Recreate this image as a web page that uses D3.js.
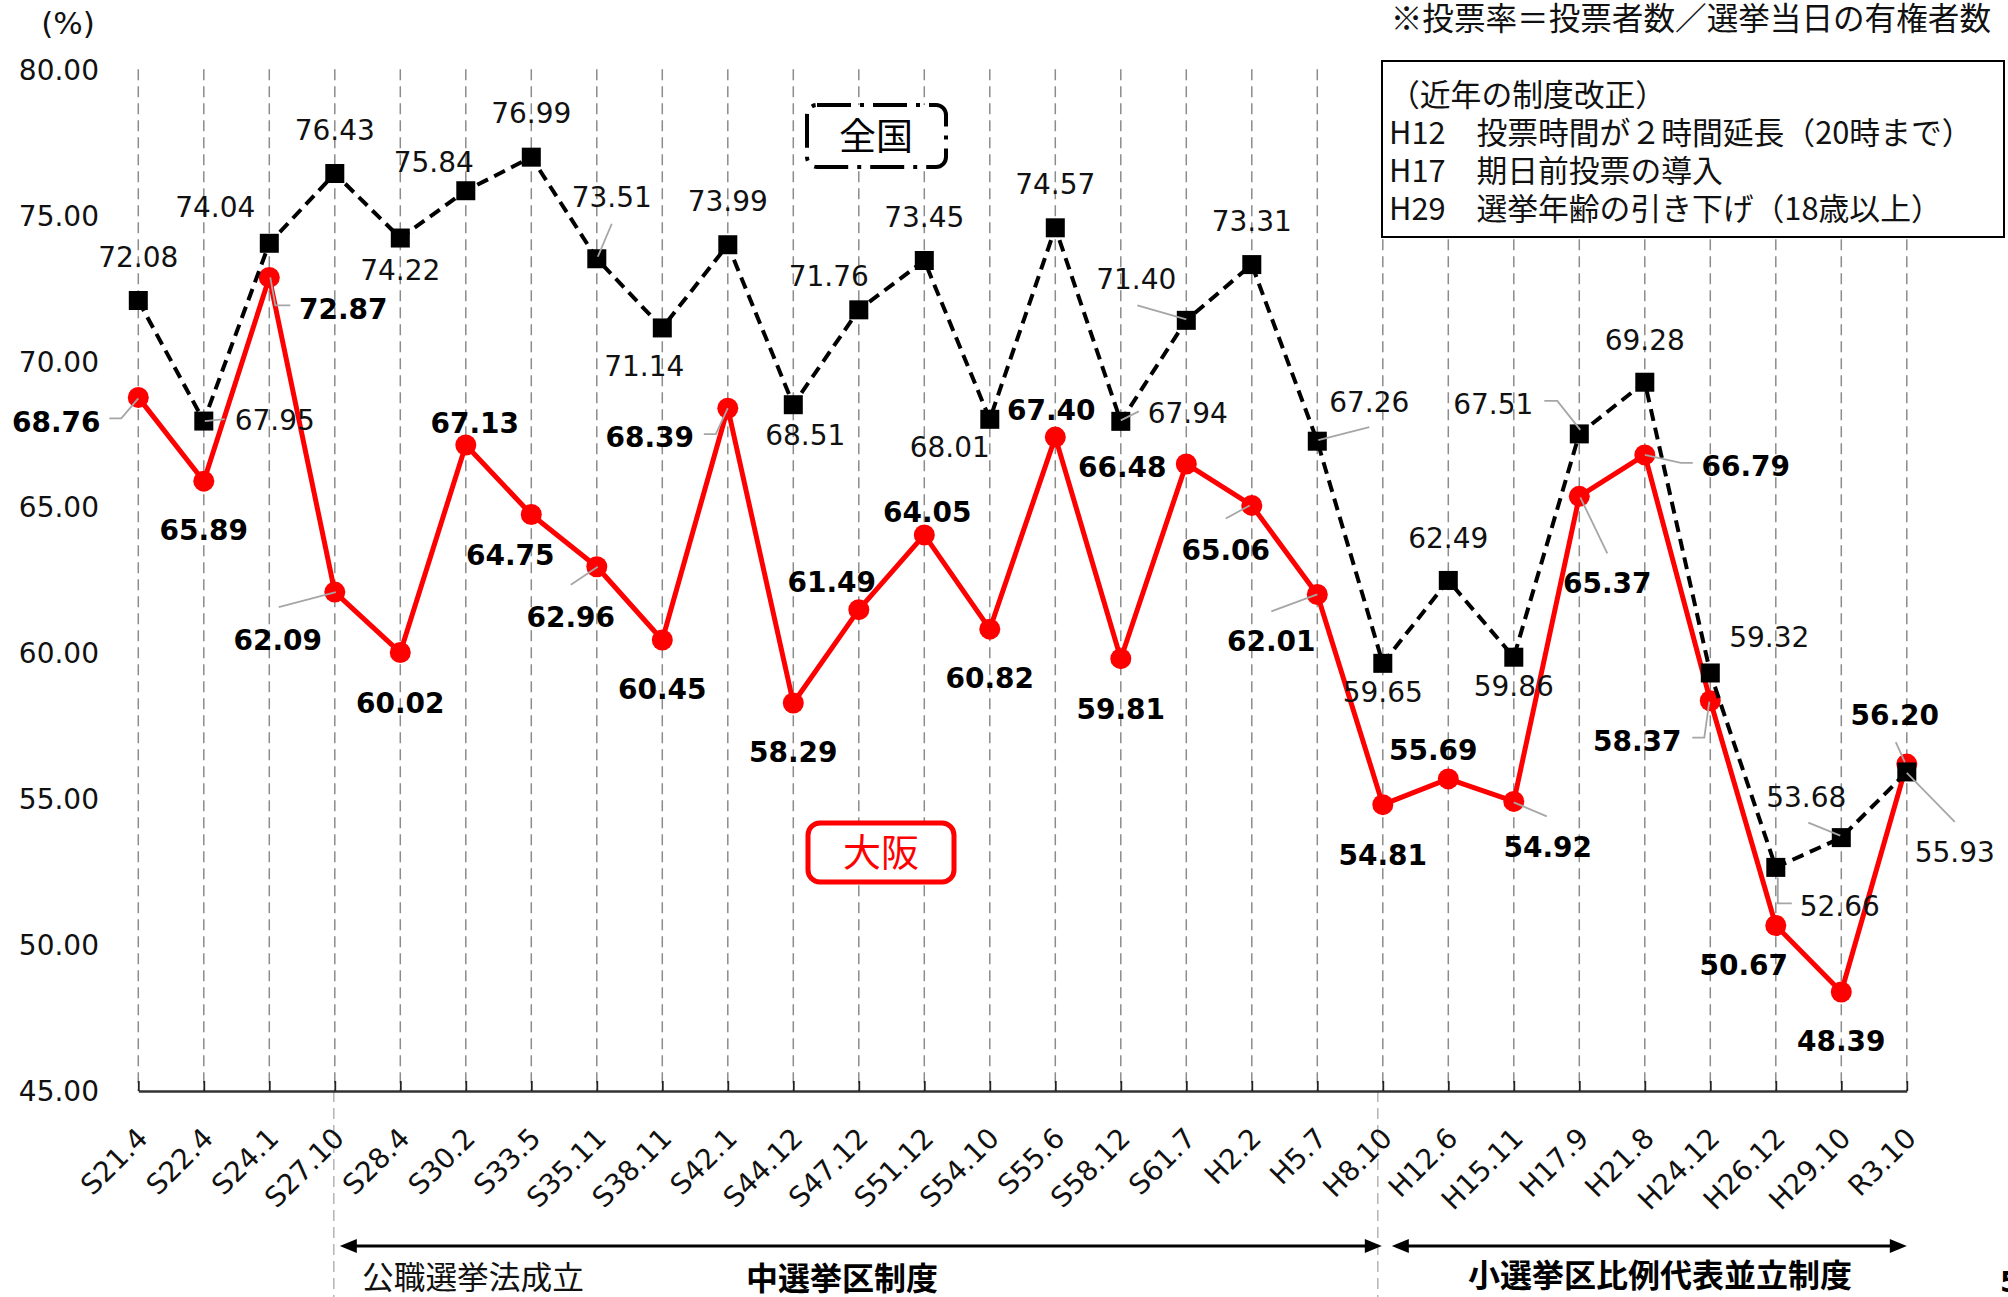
<!DOCTYPE html>
<html><head><meta charset="utf-8">
<script src="https://cdn.jsdelivr.net/npm/d3@7"></script>
<style>
html,body{margin:0;padding:0;background:#fff;}
svg{display:block;}
</style></head>
<body>
<svg id="c" width="2008" height="1297"></svg>
<script>
// ---------- data ----------
const categories = ["S21.4","S22.4","S24.1","S27.10","S28.4","S30.2","S33.5","S35.11","S38.11","S42.1","S44.12","S47.12","S51.12","S54.10","S55.6","S58.12","S61.7","H2.2","H5.7","H8.10","H12.6","H15.11","H17.9","H21.8","H24.12","H26.12","H29.10","R3.10"];
const national = [72.08,67.95,74.04,76.43,74.22,75.84,76.99,73.51,71.14,73.99,68.51,71.76,73.45,68.01,74.57,67.94,71.40,73.31,67.26,59.65,62.49,59.86,67.51,69.28,59.32,52.66,53.68,55.93];
const osaka = [68.76,65.89,72.87,62.09,60.02,67.13,64.75,62.96,60.45,68.39,58.29,61.49,64.05,60.82,67.40,59.81,66.48,65.06,62.01,54.81,55.69,54.92,65.37,66.79,58.37,50.67,48.39,56.20];
const yTicks = [45,50,55,60,65,70,75,80];
const seriesNames = ["全国","大阪"];
const noteText = "※投票率＝投票者数／選挙当日の有権者数";
const boxLines = ["（近年の制度改正）","H12　投票時間が２時間延長（20時まで）","H17　期日前投票の導入","H29　選挙年齢の引き下げ（18歳以上）"];
const periodLabels = ["公職選挙法成立","中選挙区制度","小選挙区比例代表並立制度"];

// ---------- layout (label offsets relative to point, leader polylines) ----------
const natOff = [[0,-44],[71,-1],[-54,-36],[0,-44],[0,32],[-32,-29],[0,-44],[15,-62],[-18,38],[0,-44],[12,30],[-30,-34],[0,-44],[-40,28],[0,-44],[67,-8],[-50,-41],[0,-44],[52,-39],[0,29],[0,-43],[0,29],[-86,-30],[0,-42],[59,-36],[64,39],[-35,-41],[48,80]];
const natLead = {1:[[1,0],[21,-2]],7:[[1,-2],[15,-35]],15:[[0,-1],[18,-10]],16:[[-49,-15],[0,-1]],18:[[1,-1],[52,-14]],22:[[-35,-33],[-22,-33],[1,-4]],25:[[2,10],[2,36],[16,36]],26:[[-1,-2],[-33,-15]],27:[[0,1],[48,50]]};
const osaOff = [[-82,25],[0,49],[74,31],[-57,48],[0,50],[9,-22],[-21,40],[-26,50],[0,49],[-78,29],[0,49],[-27,-28],[3,-23],[0,49],[-4,-27],[0,50],[-64,3],[-26,45],[-46,46],[0,50],[-15,-29],[34,45],[28,87],[101,11],[-73,40],[-32,39],[0,49],[-12,-49]];
const osaLead = {0:[[-29,21],[-17,21],[0,1]],2:[[1,0],[6,28],[21,28]],3:[[1,0],[-56,15]],7:[[1,0],[-26,18]],9:[[0,0],[-12,26],[-24,26]],17:[[-2,0],[-26,13]],18:[[0,0],[-46,17]],21:[[0,1],[33,15]],22:[[1,1],[28,57]],23:[[0,0],[36,8],[48,8]],24:[[-1,1],[-6,37],[-18,37]],27:[[-2,-2],[-11,-22]]};

const svg = d3.select("#c");
const NUM = "'DejaVu Sans', sans-serif";
const JP = "'Noto Sans CJK JP', sans-serif";

const x = d3.scalePoint().domain(categories).range([138.3, 1906.8]);
const y = d3.scaleLinear().domain([45,80]).range([1091, 69.3]);

// vertical dashed gridlines
svg.append("g").selectAll("line").data(categories).join("line")
  .attr("x1", d=>x(d)).attr("x2", d=>x(d))
  .attr("y1", y(80)).attr("y2", y(45))
  .attr("stroke", "#8c8c8c").attr("stroke-width", 1.5)
  .attr("stroke-dasharray", "11,6");

// divider extensions below axis
[[categories[3],-1],[categories[19],-5]].forEach(([c,o])=>{
  svg.append("line").attr("x1", x(c)+o).attr("x2", x(c)+o)
    .attr("y1", y(45)).attr("y2", 1297)
    .attr("stroke", "#b4b4b4").attr("stroke-width", 1.5).attr("stroke-dasharray","11,6");
});

// y axis labels
const yAxis = d3.axisLeft(y).tickValues(yTicks).tickFormat(d3.format(".2f")).tickSize(0).tickPadding(8);
const gy = svg.append("g").attr("transform","translate(107,0)").call(yAxis);
gy.select(".domain").remove();
gy.selectAll("text").attr("font-family", NUM).attr("font-size", 28).attr("fill","#111").attr("dy","0.35em");

// x axis
const xAxis = d3.axisBottom(x).tickSizeInner(-10).tickSizeOuter(0).tickFormat("");
const gx = svg.append("g").attr("transform",`translate(0,${y(45)})`).call(xAxis);
gx.select(".domain").attr("stroke","#333").attr("stroke-width",2.5);
gx.selectAll(".tick line").attr("stroke","#222").attr("stroke-width",1.8);
gx.selectAll(".tick text").remove();
svg.append("g").selectAll("text").data(categories).join("text")
  .attr("transform", d=>`translate(${x(d)+4},${y(45)+42}) rotate(-45)`)
  .attr("text-anchor","end").attr("dy","0.35em")
  .attr("font-family", NUM).attr("font-size", 28).attr("fill","#111")
  .text(d=>d);

// lines
const line = (arr)=> d3.line().x((d,i)=>x(categories[i])).y(d=>y(d))(arr);
svg.append("path").attr("d", line(osaka)).attr("fill","none").attr("stroke","#ff0000").attr("stroke-width",5).attr("stroke-linejoin","round");
svg.append("g").selectAll("circle").data(osaka).join("circle")
  .attr("cx",(d,i)=>x(categories[i])).attr("cy",d=>y(d)).attr("r",10.5).attr("fill","#ff0000");
svg.append("path").attr("d", line(national)).attr("fill","none").attr("stroke","#000").attr("stroke-width",4).attr("stroke-dasharray","12,7");
svg.append("g").selectAll("rect").data(national).join("rect")
  .attr("x",(d,i)=>x(categories[i])-9.5).attr("y",d=>y(d)-9.5).attr("width",19).attr("height",19).attr("fill","#000");

// leader lines
function leaders(arr, lead){
  Object.keys(lead).forEach(k=>{
    const i=+k, px=x(categories[i]), py=y(arr[i]);
    svg.append("polyline").attr("points", lead[k].map(p=>[px+p[0],py+p[1]].join(",")).join(" "))
      .attr("fill","none").attr("stroke","#a6a6a6").attr("stroke-width",1.8);
  });
}
leaders(national, natLead);
leaders(osaka, osaLead);

// value labels
svg.append("g").selectAll("text").data(national).join("text")
  .attr("x",(d,i)=>x(categories[i])+natOff[i][0]).attr("y",(d,i)=>y(d)+natOff[i][1])
  .attr("text-anchor","middle").attr("dy","0.36em")
  .attr("font-family",NUM).attr("font-size",28).attr("fill","#111")
  .text(d=>d.toFixed(2));
svg.append("g").selectAll("text").data(osaka).join("text")
  .attr("x",(d,i)=>x(categories[i])+osaOff[i][0]).attr("y",(d,i)=>y(d)+osaOff[i][1])
  .attr("text-anchor","middle").attr("dy","0.36em")
  .attr("font-family",NUM).attr("font-size",28).attr("font-weight","bold").attr("fill","#000")
  .text(d=>d.toFixed(2));

// series name boxes
svg.append("rect").attr("x",807).attr("y",105).attr("width",139).attr("height",62).attr("rx",10)
  .attr("fill","#fff").attr("stroke","#000").attr("stroke-width",4).attr("stroke-dasharray","34,9,4,9");
svg.append("text").attr("x",876).attr("y",137).attr("dy","0.35em").attr("text-anchor","middle")
  .attr("font-family",JP).attr("font-size",37).attr("fill","#000").text(seriesNames[0]);
svg.append("rect").attr("x",808).attr("y",823).attr("width",146).attr("height",59).attr("rx",12)
  .attr("fill","#fff").attr("stroke","#ff0000").attr("stroke-width",5);
svg.append("text").attr("x",881).attr("y",853).attr("dy","0.35em").attr("text-anchor","middle")
  .attr("font-family",JP).attr("font-size",38).attr("fill","#ff0000").text(seriesNames[1]);

// unit
svg.append("text").attr("x",68).attr("y",23).attr("dy","0.35em").attr("text-anchor","middle")
  .attr("font-family",NUM).attr("font-size",31).attr("fill","#111").text("(%)");

// note
svg.append("text").attr("x",1991).attr("y",19).attr("dy","0.36em").attr("text-anchor","end")
  .attr("font-family",JP).attr("font-size",31.6).attr("fill","#111").text(noteText);

// info box
svg.append("rect").attr("x",1382).attr("y",61).attr("width",622).attr("height",176)
  .attr("fill","#fff").attr("stroke","#000").attr("stroke-width",2);
svg.append("g").selectAll("text").data(boxLines).join("text")
  .attr("x",1389).attr("y",(d,i)=>95+38*i).attr("dy","0.36em")
  .attr("font-family",JP).attr("font-size",30.8).attr("fill","#111").text(d=>d);

// period arrows
function arrow(x1,x2,yy){
  svg.append("line").attr("x1",x1+14).attr("x2",x2-14).attr("y1",yy).attr("y2",yy).attr("stroke","#000").attr("stroke-width",3);
  svg.append("path").attr("d",`M${x1},${yy}L${x1+17},${yy-7}L${x1+17},${yy+7}Z`).attr("fill","#000");
  svg.append("path").attr("d",`M${x2},${yy}L${x2-17},${yy-7}L${x2-17},${yy+7}Z`).attr("fill","#000");
}
arrow(x(categories[3])+5, x(categories[19])-1, 1246);
arrow(x(categories[19])+9, x(categories[27]), 1246);

svg.append("text").attr("x",362).attr("y",1278).attr("dy","0.36em")
  .attr("font-family",JP).attr("font-size",31.7).attr("fill","#111").text(periodLabels[0]);
svg.append("text").attr("x",842).attr("y",1278).attr("dy","0.36em").attr("text-anchor","middle")
  .attr("font-family",JP).attr("font-size",32).attr("font-weight","bold").attr("fill","#000").text(periodLabels[1]);
svg.append("text").attr("x",1660).attr("y",1275).attr("dy","0.36em").attr("text-anchor","middle")
  .attr("font-family",JP).attr("font-size",32).attr("font-weight","bold").attr("fill","#000").text(periodLabels[2]);

// page number (cut off at edge)
svg.append("text").attr("x",2000).attr("y",1292)
  .attr("font-family",NUM).attr("font-size",28).attr("font-weight","bold").attr("fill","#000").text("5");
</script>
</body></html>
